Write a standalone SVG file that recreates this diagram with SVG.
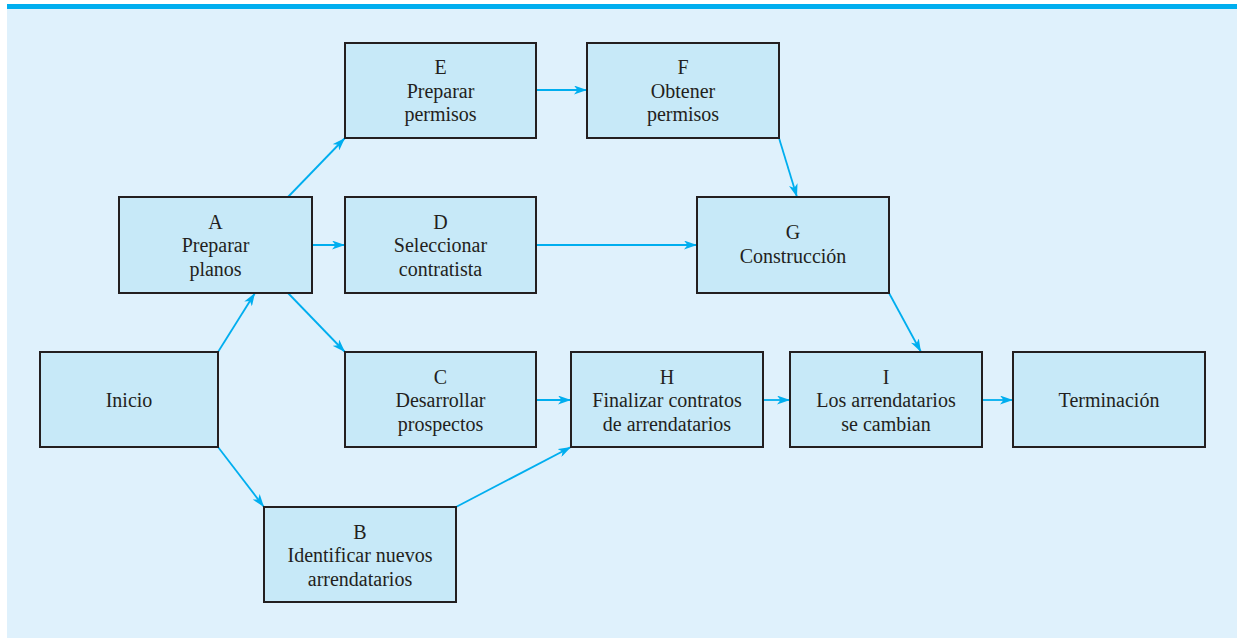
<svg xmlns="http://www.w3.org/2000/svg" width="1237" height="638" viewBox="0 0 1237 638">
<style>
.bg{fill:#dff1fc}
.bar{fill:#00aeef}
.box{fill:#c7e9f8;stroke:#231f20;stroke-width:2}
.t{font-family:"Liberation Serif","Times New Roman",serif;font-size:20px;fill:#231f20;text-anchor:middle}
.c{stroke:#00aeef;stroke-width:1.8;fill:none;marker-end:url(#ah)}
</style>
<defs>
<marker id="ah" viewBox="0 0 13 9" refX="13" refY="4.5" markerWidth="13" markerHeight="9" markerUnits="userSpaceOnUse" orient="auto">
<path d="M0,0 L13,4.5 L0,9 L3.5,4.5 z" fill="#00aeef"/>
</marker>
</defs>
<rect class="bg" x="7" y="9" width="1230" height="629"/>
<rect class="bar" x="7" y="4" width="1230" height="5"/>
<g id="connectors">
<line class="c" x1="218" y1="352" x2="255" y2="293"/>
<line class="c" x1="218" y1="447" x2="264" y2="507"/>
<line class="c" x1="288" y1="197" x2="345" y2="138"/>
<line class="c" x1="312" y1="245" x2="345" y2="245"/>
<line class="c" x1="288" y1="293" x2="345" y2="352"/>
<line class="c" x1="536" y1="90" x2="587" y2="90"/>
<line class="c" x1="779" y1="138" x2="797" y2="197"/>
<line class="c" x1="536" y1="245" x2="697" y2="245"/>
<line class="c" x1="889" y1="293" x2="921" y2="352"/>
<line class="c" x1="536" y1="400" x2="571" y2="400"/>
<line class="c" x1="456" y1="507" x2="571" y2="447"/>
<line class="c" x1="763" y1="400" x2="790" y2="400"/>
<line class="c" x1="982" y1="400" x2="1013" y2="400"/>
</g>
<g id="node-A">
<rect class="box" x="119" y="197" width="193" height="96"/>
<text class="t" x="215.5" y="228.5">A</text>
<text class="t" x="215.5" y="252">Preparar</text>
<text class="t" x="215.5" y="275.5">planos</text>
</g>
<g id="node-E">
<rect class="box" x="345" y="43" width="191" height="95"/>
<text class="t" x="440.5" y="74">E</text>
<text class="t" x="440.5" y="97.5">Preparar</text>
<text class="t" x="440.5" y="121">permisos</text>
</g>
<g id="node-F">
<rect class="box" x="587" y="43" width="192" height="95"/>
<text class="t" x="683" y="74">F</text>
<text class="t" x="683" y="97.5">Obtener</text>
<text class="t" x="683" y="121">permisos</text>
</g>
<g id="node-D">
<rect class="box" x="345" y="197" width="191" height="96"/>
<text class="t" x="440.5" y="228.5">D</text>
<text class="t" x="440.5" y="252">Seleccionar</text>
<text class="t" x="440.5" y="275.5">contratista</text>
</g>
<g id="node-G">
<rect class="box" x="697" y="197" width="192" height="96"/>
<text class="t" x="793" y="239">G</text>
<text class="t" x="793" y="262.5">Construcción</text>
</g>
<g id="node-Inicio">
<rect class="box" x="40" y="352" width="178" height="95"/>
<text class="t" x="129" y="407">Inicio</text>
</g>
<g id="node-C">
<rect class="box" x="345" y="352" width="191" height="95"/>
<text class="t" x="440.5" y="383.5">C</text>
<text class="t" x="440.5" y="407">Desarrollar</text>
<text class="t" x="440.5" y="430.5">prospectos</text>
</g>
<g id="node-H">
<rect class="box" x="571" y="352" width="192" height="95"/>
<text class="t" x="667" y="383.5">H</text>
<text class="t" x="667" y="407">Finalizar contratos</text>
<text class="t" x="667" y="430.5">de arrendatarios</text>
</g>
<g id="node-I">
<rect class="box" x="790" y="352" width="192" height="95"/>
<text class="t" x="886" y="383.5">I</text>
<text class="t" x="886" y="407">Los arrendatarios</text>
<text class="t" x="886" y="430.5">se cambian</text>
</g>
<g id="node-Terminacion">
<rect class="box" x="1013" y="352" width="192" height="95"/>
<text class="t" x="1109" y="407">Terminación</text>
</g>
<g id="node-B">
<rect class="box" x="264" y="507" width="192" height="95"/>
<text class="t" x="360" y="538.5">B</text>
<text class="t" x="360" y="562">Identificar nuevos</text>
<text class="t" x="360" y="585.5">arrendatarios</text>
</g>
</svg>
